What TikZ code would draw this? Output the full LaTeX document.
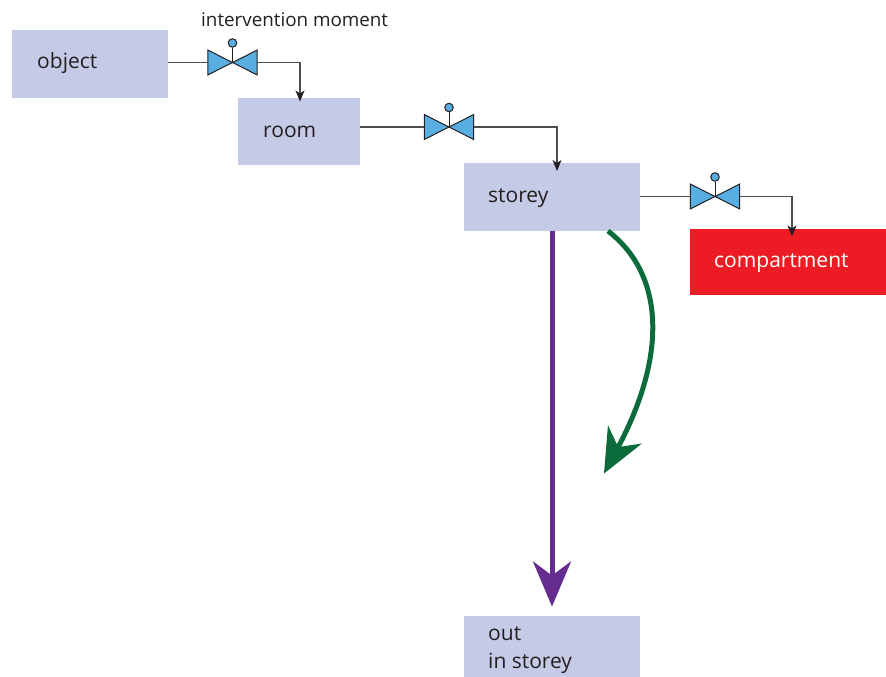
\documentclass[tikz,border=0pt]{standalone}
\usepackage{fontspec}
\setmainfont{Open Sans}
\usetikzlibrary{arrows.meta,positioning,calc}
\definecolor{boxblue}{HTML}{C5CBE6}
\definecolor{alarm}{HTML}{ED1C24}
\definecolor{valveblue}{HTML}{58AEE0}
\definecolor{pathgreen}{HTML}{0B6B3A}
\definecolor{pathpurple}{HTML}{662D91}
\definecolor{ink}{HTML}{231F20}
\tikzset{
  x=1pt,y=-1pt,
  room box/.style={fill=boxblue,draw=none,inner sep=0pt,text=ink,align=left,anchor=north west,font=\fontsize{21}{27}\selectfont},
  boxlabel/.style={inner sep=0pt,anchor=base west,text=ink,font=\fontsize{21}{27}\selectfont},
  valvebox/.style={draw=none,inner sep=0pt,minimum width=49pt,minimum height=24.5pt},
  wing/.style={fill=valveblue,draw=ink,line width=1pt,line join=miter},
  flow/.style={draw=ink!80,line width=1.2pt,-{Stealth[length=11pt,width=9pt,inset=3pt,color=ink]}},
  flowplain/.style={draw=ink!80,line width=1.2pt},
  purplepath/.style={draw=pathpurple,line width=5pt,-{Stealth[length=45pt,width=38pt,inset=14pt,color=pathpurple]}},
  greenpath/.style={draw=pathgreen,line width=5pt,-{Stealth[length=44pt,width=38pt,inset=14pt,color=pathgreen]}},
}
\newcommand{\makevalve}[3]{%
  \node[valvebox] (#1) at (#2,#3) {};
  \draw[wing] (#1.center) -- (#1.north west) -- (#1.south west) -- cycle;
  \draw[wing] (#1.center) -- (#1.north east) -- (#1.south east) -- cycle;
  \node[circle,fill=valveblue,draw=ink,line width=1pt,minimum size=8.5pt,inner sep=0pt] (#1k) at (#2,#3-19.5) {};
  \draw[ink,line width=1pt] (#1.center) -- (#1k.south);
}
\begin{document}
\begin{tikzpicture}
\useasboundingbox (0,0) rectangle (886,677);
\fill[white] (0,0) rectangle (886,677);
\node[room box,minimum width=156pt,minimum height=68pt] (object) at (12,30) {};
\node[room box,minimum width=122pt,minimum height=67pt] (room) at (238,98) {};
\node[room box,minimum width=176pt,minimum height=68pt] (storey) at (464,163) {};
\node[fill=alarm,inner sep=0pt,anchor=north west,minimum width=196pt,minimum height=66pt] (compartment) at (690,229) {};
\node[room box,minimum width=176pt,minimum height=61pt] (out) at (464,616) {};
\node[boxlabel] (tobject) at (37,69) {object};
\node[boxlabel] (troom) at (263,137) {room};
\node[boxlabel] (tstorey) at (488,202) {storey};
\node[boxlabel,text=white] (tcomp) at (714,267) {compartment};
\node[boxlabel] (tout) at (488,640) {out};
\node[boxlabel] (tin) at (488,668) {in storey};
\node[inner sep=0pt,anchor=base west,text=ink,font=\fontsize{18.8}{20}\selectfont] (tmoment) at (201,27) {intervention moment};
\makevalve{v1}{232.5}{62.5}
\makevalve{v2}{449}{127}
\makevalve{v3}{715}{196.5}
\coordinate (a1) at (300,101.5);
\coordinate (a2) at (557,171);
\coordinate (a3) at (792,236.5);
\draw[flowplain] (object.east |- v1.west) -- (v1.west);
\draw[flow] (v1.east) -| (a1);
\draw[flowplain] (room.east |- v2.west) -- (v2.west);
\draw[flow] (v2.east) -| (a2);
\draw[flowplain] (storey.east |- v3.west) -- (v3.west);
\draw[flow] (v3.east) -| (a3);
\coordinate (ptip) at (552,606.5);
\coordinate (gstart) at (608,231);
\coordinate (gtip) at (604,473.5);
\draw[purplepath] (storey.south -| ptip) -- (ptip);
\draw[greenpath] (gstart) .. controls (665,275) and (667,356) .. (gtip);
\end{tikzpicture}
\end{document}
